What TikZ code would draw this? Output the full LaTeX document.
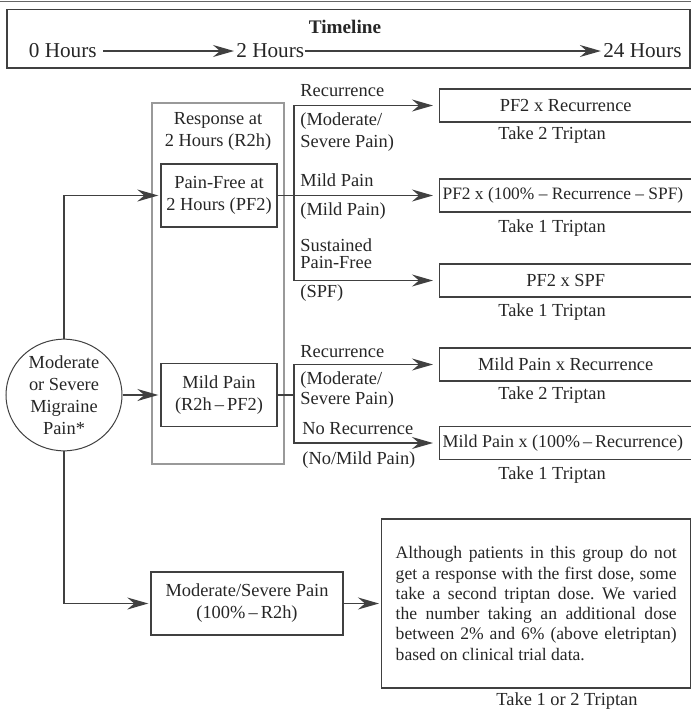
\documentclass[tikz,border=0pt]{standalone}
\usepackage{fontspec}
\setmainfont{Liberation Serif}
\usetikzlibrary{arrows.meta,shapes.geometric}
\newcommand\restext[2][c]{\makebox[126pt][#1]{#2}\hspace{14pt}}

\begin{document}
\begin{tikzpicture}[x=0.5pt, y=-0.5pt,
		every node/.style={text=black!85, font=\fontsize{9.2}{11}\selectfont},
		line/.style={draw=black!75, line width=0.7pt},
		arr/.style={line, -{Stealth[length=10.5pt, width=6pt, inset=3.5pt]}, shorten >=1pt},
		box/.style={draw=black!75, line width=0.7pt, rectangle, inner sep=0pt, align=center},
		result/.style={box, minimum height=16.5pt, anchor=west},
		state/.style={box, minimum width=58pt, minimum height=31.5pt},
		lbl/.style={anchor=west, inner sep=0pt, align=left},
		take/.style={inner sep=0pt},
		hour/.style={take, font=\fontsize{10.6}{12}\selectfont},
	]
	\useasboundingbox (0,0) rectangle (691,719);
	\draw[draw=black!60, line width=0.6pt] (0,1.5) -- (691,1.5);
	\draw[line] (7,9.5) rectangle (690,68);

	\node[font=\fontsize{9.6}{11}\selectfont\bfseries] (title) at (345,27) {Timeline};
	\node[hour, anchor=east] (h0)  at (97,51)  {0 Hours};
	\node[hour, anchor=west] (h2)  at (236,51) {2 Hours};
	\node[hour, anchor=east] (h24) at (682,51) {24 Hours};
	\draw[arr, shorten <=3pt] (h0) -- (h2);
	\draw[arr] (h2) -- (h24);

	\node[ellipse, draw=black!75, line width=0.5pt, minimum width=58pt, minimum height=52pt, inner sep=0pt, align=center] (mig) at (64,395) {Moderate\\or Severe\\Migraine\\Pain*};

	\node[draw=black!40, line width=0.6pt, minimum width=66pt, minimum height=180.5pt, inner sep=0pt] (grp) at (218,283.5) {};
	\node[align=center, inner sep=0pt] (resp) at (218,131) {Response at\\2 Hours (R2h)};
	\node[state] (pf2)  at (219,195.5) {Pain-Free at\\2 Hours (PF2)};
	\node[state] (mild) at (219,395)   {Mild Pain\\(R2h\,--\,PF2)};
	\node[box, minimum width=96pt, minimum height=31.5pt] (mod) at (247,603.5) {Moderate/Severe Pain\\(100\%\,--\,R2h)};

	\draw[arr] (mig.north) |- (pf2.west);
	\draw[arr] (mig) -- (mild);
	\draw[arr] (mig.south) |- (mod.west);

	\node[result] (r1) at (439,105.5) {\restext{PF2 x Recurrence}};
	\node[result, font=\fontsize{8.7}{11}\selectfont] (r2) at (439,195.5) {\restext[l]{\,PF2 x (100\% -- Recurrence -- SPF)}};
	\node[result] (r3) at (439,280.5) {\restext{PF2 x SPF}};
	\node[result] (r4) at (439,364.5) {\restext{Mild Pain x Recurrence}};
	\node[result, font=\fontsize{9}{11}\selectfont] (r5) at (439,443) {\restext[l]{\,Mild Pain x (100\%\,--\,Recurrence)}};

	\node[take] (t1) at (552,135) {Take 2 Triptan};
	\node[take] (t2) at (552,228) {Take 1 Triptan};
	\node[take] (t3) at (552,312) {Take 1 Triptan};
	\node[take] (t4) at (552,395) {Take 2 Triptan};
	\node[take] (t5) at (552,475) {Take 1 Triptan};

	\coordinate (j1) at (294,195.5);
	\coordinate (j2) at (294,395);
	\draw[line] (pf2) -- (j1);
	\draw[line] (mild) -- (j2);
	\draw[arr, shorten >=3pt] (j1) |- (r1);
	\draw[arr, shorten >=3pt] (j1) -- (r2);
	\draw[arr, shorten >=3pt] (j1) |- (r3);
	\draw[arr, shorten >=3pt] (j2) |- (r4);
	\draw[arr, shorten >=3pt] (j2) |- (r5);

	\node[lbl] (l1)  at (300,91)  {Recurrence};
	\node[lbl] (l2)  at (300,132) {(Moderate/\\Severe Pain)};
	\node[lbl] (l3)  at (300,180) {Mild Pain};
	\node[lbl] (l4)  at (300,211) {(Mild Pain)};
	\node[lbl] (l5)  at (300,254) {Sustained\\[-2.5pt]Pain-Free};
	\node[lbl] (l6)  at (300,293) {(SPF)};
	\node[lbl] (l7)  at (300,352) {Recurrence};
	\node[lbl] (l8)  at (300,390) {(Moderate/\\[-1pt]Severe Pain)};
	\node[lbl] (l9)  at (302,429) {No Recurrence};
	\node[lbl] (l10) at (302,460) {(No/Mild Pain)};

	\node[box, anchor=west, minimum width=154.5pt, minimum height=84.5pt, inner xsep=7pt, text width=140.5pt, align=justify,
		font=\fontsize{8.8}{10.15}\selectfont\frenchspacing] (note) at (381,603.5)
		{Although patients in this group do not\linebreak get a response with the first dose, some\linebreak take a second triptan dose. We varied\linebreak the number taking an additional dose\linebreak between 2\% and 6\% (above eletriptan)\linebreak based on clinical trial data.};
	\draw[arr] (mod) -- (note);
	\node[take] (t6) at (567,701) {Take 1 or 2 Triptan};
\end{tikzpicture}
\end{document}
